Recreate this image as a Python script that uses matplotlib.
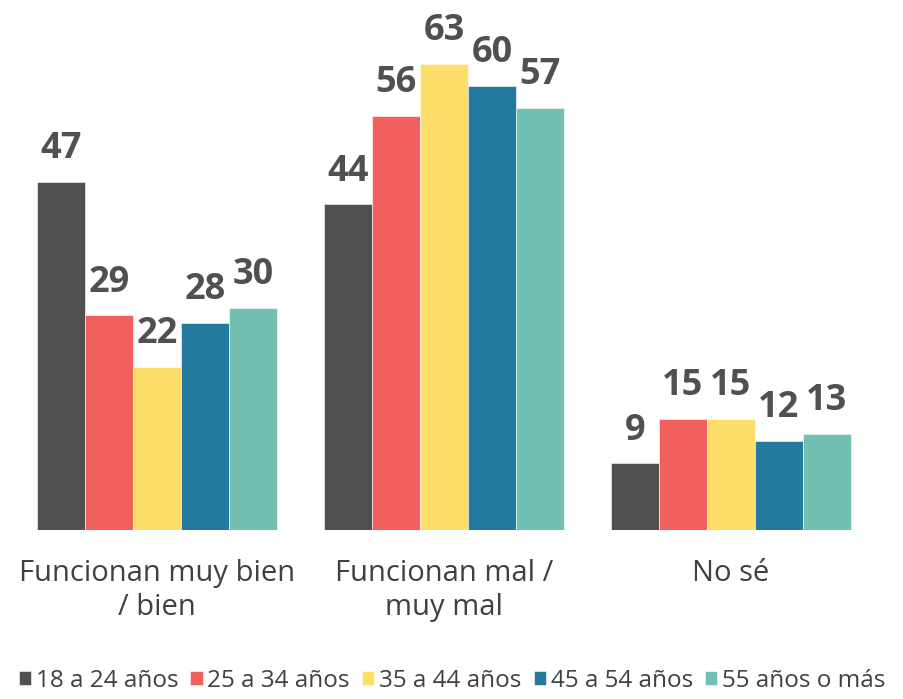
import matplotlib
matplotlib.use("Agg")
import matplotlib.pyplot as plt
import numpy as np

categories = ["Funcionan muy bien\n/ bien", "Funcionan mal /\nmuy mal", "No sé"]
series_names = ["18 a 24 años", "25 a 34 años", "35 a 44 años", "45 a 54 años", "55 años o más"]
values_18_24 = [47, 44, 9]
values_25_34 = [29, 56, 15]
values_35_44 = [22, 63, 15]
values_45_54 = [28, 60, 12]
values_55_mas = [30, 57, 13]
colors = ["#505050", "#F2605E", "#FDDE68", "#227A9E", "#71C0B2"]

all_series = [values_18_24, values_25_34, values_35_44, values_45_54, values_55_mas]

plt.rcParams['font.family'] = ['Open Sans', 'DejaVu Sans']

W, H = 904, 699
fig = plt.figure(figsize=(W/100, H/100), dpi=100)
base_px = 530
ax = fig.add_axes([0, (H - base_px)/H, 1, (base_px - 12)/H])
unit = 7.4
ax.set_ylim(0, (base_px - 12)/unit)
spacing = 287.0
ax.set_xlim(-157/spacing, (W-157)/spacing)
bw = 48/spacing

x = np.arange(len(categories))
for i, (vals, name, c) in enumerate(zip(all_series, series_names, colors)):
    pos = x + (i - 2) * bw
    ax.bar(pos, vals, width=bw, color=c, label=name, edgecolor='white', linewidth=0.4)
    for p, v in zip(pos, vals):
        ax.text(p, v + 2.0, str(v), ha='center', va='bottom', fontsize=26,
                fontweight='bold', color='#505050')

for xi, cat in zip(x, categories):
    ax.text(xi, -3.9, cat, ha='center', va='top', fontsize=21, color='#404040',
            linespacing=1.24)

ax.axis('off')

leg = fig.legend(loc='lower center', bbox_to_anchor=(0.5, -0.022), ncol=5, frameon=False,
                 fontsize=17.5, handlelength=0.5, handleheight=0.5, handletextpad=0.2,
                 columnspacing=0.5, labelcolor='#404040')
fig.savefig("out.png", dpi=100)
